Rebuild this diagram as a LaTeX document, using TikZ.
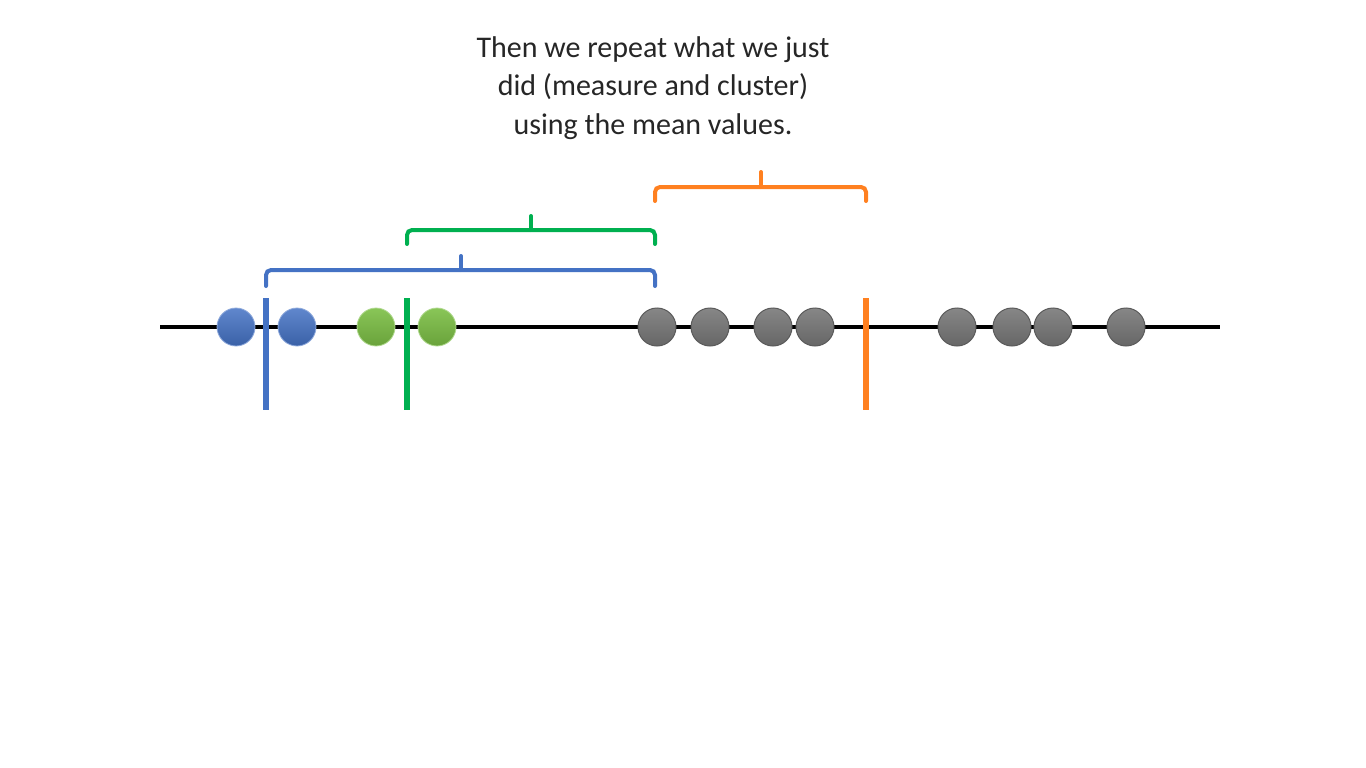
\documentclass[tikz,border=0pt]{standalone}
\usepackage{fontspec}
\setmainfont{Carlito}
\definecolor{cblue}{HTML}{4472C4}
\definecolor{cgreen}{HTML}{00B050}
\definecolor{corange}{HTML}{FF8020}
\definecolor{dotgreen}{HTML}{7CBF45}
\definecolor{dotgray}{HTML}{808080}
\definecolor{txt}{HTML}{262626}
\begin{document}
\begin{tikzpicture}[x=1pt,y=-1pt,
  dot/.style={circle,minimum size=38pt,inner sep=0pt},
  bluedot/.style={dot,top color=cblue!85!white,bottom color=cblue!85!black,draw=cblue!60!white,line width=0.8pt},
  greendot/.style={dot,top color=dotgreen!90!white,bottom color=dotgreen!85!black,draw=dotgreen!60!white,line width=0.8pt},
  graydot/.style={dot,top color=dotgray!95!white,bottom color=dotgray!80!black,draw=dotgray!70!black,line width=1pt},
  divider/.style={line width=6pt},
  brace/.style={line width=4pt,rounded corners=5pt,line cap=round}]
\useasboundingbox (0,0) rectangle (1366,768);
\fill[white] (0,0) rectangle (1366,768);
\node[txt,font=\fontsize{30}{38.5}\selectfont,align=center] (title) at (653,88)
  {Then we repeat what we just\\did (measure and cluster)\\using the mean values.};
\coordinate (L) at (160,327);
\coordinate (R) at (1220,327);
\draw[line width=4pt] (L) -- (R);
% dividers
\draw[divider,cblue] (266,298) -- (266,410);
\draw[divider,cgreen] (407,298) -- (407,410);
\draw[divider,corange] (866,298) -- (866,410);
% dots
\node[bluedot] (b1) at (236,327) {};
\node[bluedot] (b2) at (297,327) {};
\node[greendot] (g1) at (376,327) {};
\node[greendot] (g2) at (437,327) {};
\foreach \x/\n in {657/1,710/2,773/3,815/4,957/5,1012/6,1053/7,1126/8}
  \node[graydot] (k\n) at (\x,327) {};
% braces
\draw[brace,cblue] (266,286) -- (266,270) -- (655,270) -- (655,286);
\draw[brace,cblue,rounded corners=0pt] (461,270) -- (461,256);
\draw[brace,cgreen] (407,244) -- (407,230) -- (655,230) -- (655,244);
\draw[brace,cgreen,rounded corners=0pt] (531,230) -- (531,216);
\draw[brace,corange] (655,201) -- (655,187) -- (866,187) -- (866,201);
\draw[brace,corange,rounded corners=0pt] (761,187) -- (761,172);
\end{tikzpicture}
\end{document}
